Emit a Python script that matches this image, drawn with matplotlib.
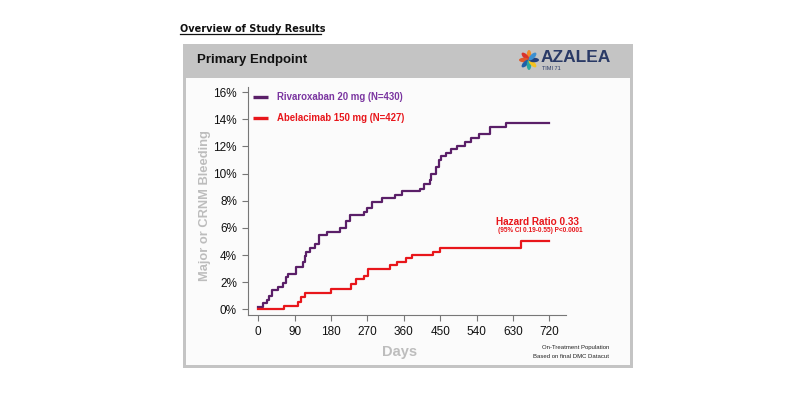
import math
import matplotlib
matplotlib.use("Agg")
import matplotlib.pyplot as plt
from matplotlib.patches import Rectangle, Ellipse

# Kaplan-Meier style step data (days, cumulative % with event)
riva_days = [0, 11, 21, 27, 33, 49, 60, 68, 74, 93, 111, 115, 119, 129, 140, 151, 169, 202, 216, 228,
             261, 268, 280, 305, 337, 356, 399, 411, 424, 428, 440, 447, 453, 463, 477, 491, 512, 527,
             545, 572, 613, 720]
riva_pct = [0.2, 0.5, 0.7, 1.0, 1.4, 1.67, 1.97, 2.36, 2.6, 3.1, 3.5, 3.9, 4.25, 4.5, 4.8, 5.5, 5.7, 6.0,
            6.5, 6.95, 7.2, 7.5, 7.9, 8.2, 8.4, 8.75, 8.9, 9.2, 9.5, 10.0, 10.5, 11.0, 11.3, 11.55, 11.8,
            12.0, 12.35, 12.6, 12.9, 13.4, 13.76, 13.76]

abel_days = [0, 64, 99, 105, 115, 181, 230, 241, 261, 272, 325, 342, 366, 379, 432, 449, 650, 720]
abel_pct = [0, 0.25, 0.57, 0.88, 1.23, 1.47, 1.87, 2.2, 2.46, 2.95, 3.27, 3.46, 3.76, 4.0, 4.25, 4.55,
            5.0, 5.0]

x_ticks = [0, 90, 180, 270, 360, 450, 540, 630, 720]
y_ticks = [0, 2, 4, 6, 8, 10, 12, 14, 16]

PURPLE = "#5a1f68"
PURPLE_TXT = "#7a35a0"
RED = "#e8161b"
GRAY_LBL = "#bdbdbd"

plt.rcParams["font.family"] = ["Liberation Sans", "DejaVu Sans"]

fig = plt.figure(figsize=(8, 4), dpi=100)
fig.patch.set_facecolor("white")

# overlay in pixel coords for the frame, header and notes
ov = fig.add_axes([0, 0, 1, 1])
ov.set_xlim(0, 800)
ov.set_ylim(400, 0)
ov.axis("off")
ov.set_zorder(0)

ov.add_patch(Rectangle((183, 44), 450, 324, facecolor="#c4c4c4", edgecolor="none"))
ov.add_patch(Rectangle((186, 78), 444, 287, facecolor="#fbfbfb", edgecolor="none"))

ov.text(180, 29, "Overview of Study Results", fontsize=7, fontweight="bold", family="DejaVu Sans",
        va="center", ha="left", color="#111111")
ov.plot([180, 321], [34, 34], color="#111111", lw=0.9)

ov.text(197, 60, "Primary Endpoint", fontsize=9.5, fontweight="bold", va="center",
        ha="left", color="#111111")

# logo flower
petal_cols = ["#f28c28", "#d9342b", "#e05a2a", "#1f5fa8", "#2aa6a0", "#f3c221", "#23407a", "#3c8fd0"]
for i, c in enumerate(petal_cols):
    a = math.radians(90 + i * 45)
    cx, cy = 529 + 5 * math.cos(a), 60 - 5 * math.sin(a)
    ov.add_patch(Ellipse((cx, cy), 10, 4.5, angle=-math.degrees(a), facecolor=c, edgecolor="none"))
ov.text(541, 58, "AZALEA", fontsize=12.5, fontweight="bold", va="center", ha="left",
        color="#2a3a66")
ov.text(542, 68, "TIMI 71", fontsize=4, va="center", ha="left", color="#2a3a66")

# legend
for yy, col, tcol, label in [(97, PURPLE, PURPLE_TXT, "Rivaroxaban 20 mg (N=430)"),
                             (118, RED, RED, "Abelacimab 150 mg (N=427)")]:
    ov.plot([253, 268], [yy, yy], color=col, lw=2.4, solid_capstyle="butt")
    ov.text(277, yy, label, fontsize=6.9, fontweight="bold", color=tcol, va="center", ha="left")

ov.text(537, 222, "Hazard Ratio 0.33", fontsize=7.2, fontweight="bold", color=RED,
        va="center", ha="center")
ov.text(540, 231, "(95% CI 0.19-0.55) P<0.0001", fontsize=4.7, fontweight="bold",
        color=RED, va="center", ha="center")

ov.text(609, 348, "On-Treatment Population", fontsize=4.3, color="#222222",
        va="center", ha="right")
ov.text(609, 357, "Based on final DMC Datacut", fontsize=4.3, color="#222222",
        va="center", ha="right")

# main axes
ax = fig.add_axes([248 / 800, 1 - 315 / 400, (566 - 248) / 800, (315 - 87) / 400])
ax.set_zorder(2)
ax.set_facecolor("none")
ax.set_xlim(-25.5, 761)
ax.set_ylim(-0.42, 16.38)

ax.step(riva_days, riva_pct, where="post", color=PURPLE, lw=1.6)
ax.step(abel_days, abel_pct, where="post", color=RED, lw=1.6)

ax.set_xticks(x_ticks)
ax.set_yticks(y_ticks)
ax.set_yticklabels([f"{v}%" for v in y_ticks])
for s in ["top", "right"]:
    ax.spines[s].set_visible(False)
for s in ["left", "bottom"]:
    ax.spines[s].set_color("#777777")
    ax.spines[s].set_linewidth(0.8)
ax.tick_params(axis="both", colors="#777777", labelcolor="#111111", labelsize=8.5,
               length=4, width=0.8, pad=4)

ax.set_ylabel("Major or CRNM Bleeding", fontsize=9.3, fontweight="bold", color=GRAY_LBL)
ax.set_xlabel("Days", fontsize=10.5, fontweight="bold", color=GRAY_LBL)
ax.xaxis.set_label_coords((400 - 248) / 318, -(345 - 315) / 228)
ax.yaxis.set_label_coords(-(248 - 211) / 318, (315 - 206) / 228)

fig.savefig("out.png", dpi=100)
